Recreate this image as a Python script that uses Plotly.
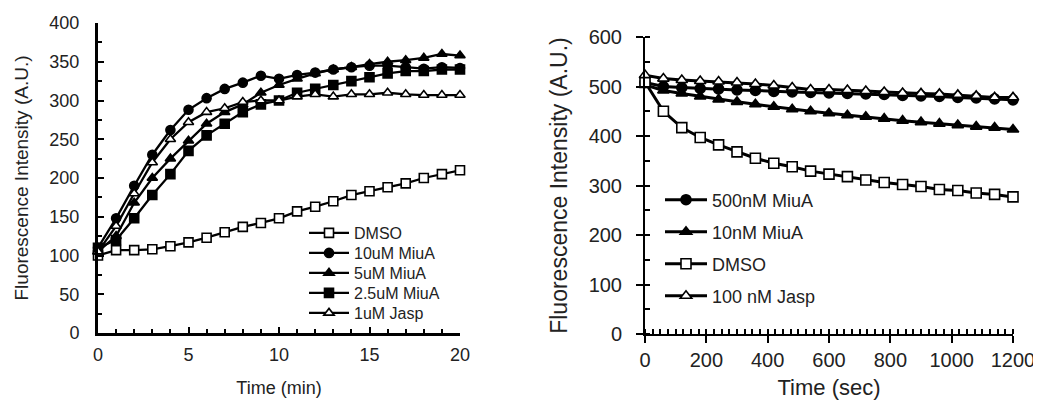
import plotly.graph_objects as go

# ---- Left panel data (Time in min) ----
t_min = list(range(0, 21))
left_dmso = [100, 107, 107, 108, 112, 117, 123, 130, 137, 142, 148, 157, 163, 170, 178, 183, 188, 193, 200, 205, 210]
left_10uM = [110, 148, 190, 230, 262, 288, 303, 315, 323, 332, 328, 333, 336, 340, 343, 345, 345, 343, 341, 343, 342]
left_5uM = [105, 125, 168, 200, 225, 248, 270, 285, 295, 310, 320, 328, 335, 340, 343, 347, 350, 352, 355, 360, 358]
left_2p5uM = [110, 120, 148, 178, 205, 235, 255, 270, 285, 295, 300, 310, 315, 320, 325, 330, 335, 338, 338, 340, 340]
left_jasp = [105, 138, 180, 220, 250, 272, 285, 290, 298, 300, 300, 305, 308, 305, 308, 308, 310, 308, 307, 307, 307]
left_names = ["DMSO", "10uM MiuA", "5uM MiuA", "2.5uM MiuA", "1uM Jasp"]

# ---- Right panel data (Time in sec) ----
t_sec = list(range(0, 1201, 60))
right_500nM = [508, 500, 498, 496, 495, 493, 492, 490, 489, 488, 487, 486, 485, 484, 482, 481, 480, 478, 477, 475, 473]
right_10nM = [503, 492, 486, 480, 474, 469, 464, 459, 454, 450, 446, 442, 439, 435, 431, 428, 425, 422, 419, 417, 413]
right_dmso = [509, 450, 417, 397, 382, 368, 355, 345, 338, 329, 323, 318, 311, 306, 302, 298, 292, 290, 285, 282, 277]
right_jasp = [523, 516, 513, 511, 510, 508, 505, 502, 498, 494, 494, 493, 491, 489, 487, 486, 485, 483, 481, 478, 478]
right_names = ["500nM MiuA", "10nM MiuA", "DMSO", "100 nM Jasp"]

FONT = "Liberation Sans, Arial, sans-serif"
OFF = 8  # page body margin
W, H = 1041 - OFF, 405 - OFF


def px(sx):
    return (sx - OFF) / W


def py(sy):
    return 1 - (sy - OFF) / H


fig = go.Figure()


def mk(symbol, filled, size):
    return dict(symbol=symbol, size=size,
                color="black" if filled else "white",
                line=dict(color="black", width=1.6))


legends = {}

left_series = [left_dmso, left_10uM, left_5uM, left_2p5uM, left_jasp]
left_markers = [("square", False), ("circle", True), ("triangle-up", True), ("square", True), ("triangle-up", False)]
left_leg_y = [233, 253, 273, 293, 313]
for i, (name, ys, (sym, filled)) in enumerate(zip(left_names, left_series, left_markers)):
    lid = "legend" if i == 0 else f"legend{i + 1}"
    fig.add_trace(go.Scatter(x=t_min, y=ys, name=name, mode="lines+markers",
                             line=dict(color="black", width=2.3),
                             marker=mk(sym, filled, 9),
                             cliponaxis=False, xaxis="x", yaxis="y", legend=lid, showlegend=True))
    legends[lid] = dict(x=px(304), y=py(left_leg_y[i]), xanchor="left", yanchor="middle",
                        bgcolor="rgba(0,0,0,0)", font=dict(size=16, family=FONT, color="#222"),
                        itemwidth=40, visible=True)

right_series = [right_500nM, right_10nM, right_dmso, right_jasp]
right_markers = [("circle", True), ("triangle-up", True), ("square", False), ("triangle-up", False)]
right_leg_y = [200, 232, 264, 296]
for j, (name, ys, (sym, filled)) in enumerate(zip(right_names, right_series, right_markers)):
    lid = f"legend{len(left_names) + j + 1}"
    fig.add_trace(go.Scatter(x=t_sec, y=ys, name=name, mode="lines+markers",
                             line=dict(color="black", width=3),
                             marker=mk(sym, filled, 10),
                             cliponaxis=False, xaxis="x2", yaxis="y2", legend=lid, showlegend=True))
    legends[lid] = dict(x=px(660), y=py(right_leg_y[j]), xanchor="left", yanchor="middle",
                        bgcolor="rgba(0,0,0,0)", font=dict(size=18, family=FONT, color="#222"),
                        itemwidth=42, visible=True)

fig.update_layout(
    width=W, height=H,
    showlegend=True,
    margin=dict(l=0, r=0, t=0, b=0),
    paper_bgcolor="white", plot_bgcolor="white",
    font=dict(family=FONT, color="#222"),
    xaxis=dict(domain=[px(98), px(460)], range=[0, 20], anchor="y", automargin=False,
               tickvals=[0, 5, 10, 15, 20], ticks="inside", ticklen=6, tickwidth=2,
               minor=dict(dtick=1, ticks="inside", ticklen=4, tickwidth=2, tickcolor="black"),
               showline=True, linecolor="black", linewidth=3, tickcolor="black",
               showgrid=False, zeroline=False, tickfont=dict(size=18), ticklabelstandoff=3,
               title=dict(text="Time (min)", font=dict(size=18), standoff=18)),
    yaxis=dict(domain=[py(333), py(23)], range=[0, 400], anchor="x", automargin=False,
               dtick=50, ticks="inside", ticklen=6, tickwidth=2,
               minor=dict(dtick=25, ticks="inside", ticklen=4, tickwidth=2, tickcolor="black"),
               showline=True, linecolor="black", linewidth=3, tickcolor="black",
               showgrid=False, zeroline=False, tickfont=dict(size=18), ticklabelstandoff=12,
               title=dict(text="Fluorescence Intensity (A.U.)", font=dict(size=19), standoff=16)),
    xaxis2=dict(domain=[px(645), px(1013)], range=[0, 1200], anchor="y2", automargin=False,
                dtick=200, ticks="outside", ticklen=7, tickwidth=2,
                minor=dict(dtick=25, ticks="inside", ticklen=5, tickwidth=1.5, tickcolor="black"),
                showline=True, linecolor="black", linewidth=2, tickcolor="black",
                showgrid=False, zeroline=False, tickfont=dict(size=20),
                title=dict(text="Time (sec)", font=dict(size=22), standoff=10)),
    yaxis2=dict(domain=[py(334), py(37)], range=[0, 600], anchor="x2", automargin=False,
                dtick=100, ticks="outside", ticklen=7, tickwidth=2,
                minor=dict(dtick=50, ticks="inside", ticklen=5, tickwidth=1.5, tickcolor="black"),
                showline=True, linecolor="black", linewidth=2, tickcolor="black",
                showgrid=False, zeroline=False, tickfont=dict(size=20), ticklabelstandoff=10,
                title=dict(text="Fluorescence Intensity (A.U.)", font=dict(size=23), standoff=15)),
    **legends,
)

fig.write_html("out.html")
